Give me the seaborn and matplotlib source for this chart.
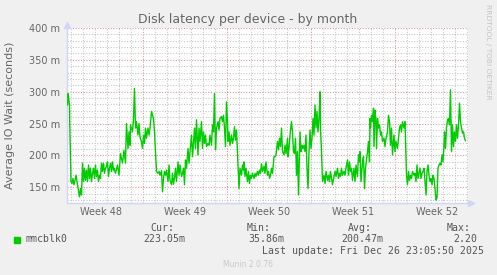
import matplotlib
matplotlib.use("Agg")
import matplotlib.pyplot as plt
import matplotlib.ticker as mticker
from matplotlib.transforms import blended_transform_factory
from matplotlib.patches import Rectangle
import seaborn as sns
import pandas as pd

# ---------------- data ----------------
title = "Disk latency per device - by month"
ylabel = "Average IO Wait (seconds)"
series_name = "mmcblk0"

# hours since the left edge of the 33-day window
hours = [1, 2, 3, 5, 6, 8, 10, 12, 14, 16, 18, 21, 23, 25, 27, 29, 31, 33, 35, 37,
         39, 41, 43, 45, 47, 49, 51, 53, 55, 57, 59, 61, 63, 65, 67, 69, 71, 73, 75, 77,
         79, 81, 83, 85, 87, 89, 91, 93, 94, 97, 101, 104, 107, 111, 114, 117, 119, 122, 124, 126,
         127, 131, 133, 135, 137, 139, 142, 144, 146, 149, 151, 153, 155, 157, 159, 162, 164, 166, 169, 171,
         173, 175, 177, 179, 182, 184, 186, 189, 191, 193, 195, 197, 199, 202, 204, 206, 209, 211, 213, 215,
         217, 219, 222, 224, 226, 229, 231, 233, 235, 237, 239, 242, 244, 246, 249, 251, 253, 255, 257, 259,
         262, 264, 266, 269, 271, 273, 275, 277, 279, 282, 284, 286, 289, 291, 293, 295, 296, 297, 299, 302,
         304, 306, 309, 311, 313, 315, 317, 319, 321, 322, 324, 326, 329, 331, 333, 335, 337, 339, 342, 344,
         346, 349, 351, 353, 354, 356, 358, 361, 363, 365, 367, 369, 371, 374, 376, 378, 381, 383, 385, 387,
         389, 391, 394, 396, 398, 401, 403, 405, 407, 409, 411, 414, 416, 418, 421, 423, 425, 427, 429, 431,
         434, 436, 438, 441, 442, 444, 446, 449, 451, 453, 455, 457, 459, 461, 463, 465, 466, 468, 470, 472,
         474, 476, 478, 480, 482, 484, 486, 488, 490, 492, 494, 496, 498, 500, 502, 504, 506, 507, 509, 511,
         514, 516, 518, 521, 523, 525, 527, 529, 531, 534, 536, 538, 541, 543, 545, 547, 549, 551, 554, 556,
         558, 561, 563, 565, 567, 569, 571, 574, 576, 578, 581, 583, 585, 586, 588, 591, 593, 595, 597, 601,
         603, 605, 606, 607, 609, 611, 613, 614, 616, 618, 619, 621, 623, 625, 627, 629, 631, 634, 636, 638,
         641, 643, 645, 647, 649, 651, 654, 656, 658, 661, 663, 665, 667, 669, 671, 674, 676, 678, 679, 681,
         683, 685, 687, 689, 691, 694, 696, 698, 700, 702, 704, 706, 708, 710, 712, 714, 716, 718, 720, 722,
         724, 726, 728, 730, 732, 734, 736, 738, 740, 742, 744, 746, 748, 750, 752, 754, 755, 757, 759, 761,
         763, 765, 767, 769, 771, 773, 775, 777, 779, 781, 783, 785, 787, 789, 791, 793, 795, 797]

# average IO wait, in milli-seconds ("m")
latency_m = [279, 297, 292, 279, 232, 159, 156, 164, 154, 161, 169, 154, 143, 135, 148, 138, 188, 159, 180, 161,
             177, 159, 185, 164, 180, 159, 172, 180, 164, 185, 167, 177, 159, 169, 164, 188, 175, 188, 172, 180,
             183, 190, 167, 180, 188, 175, 190, 177, 180, 172, 185, 169, 203, 188, 208, 188, 250, 211, 237, 216,
             248, 237, 258, 305, 243, 253, 232, 250, 229, 221, 211, 232, 219, 243, 227, 243, 232, 243, 269, 263,
             258, 237, 206, 175, 172, 175, 169, 176, 143, 164, 175, 169, 177, 159, 185, 161, 154, 172, 155, 164,
             180, 159, 190, 169, 185, 167, 172, 180, 154, 193, 180, 211, 188, 206, 232, 198, 219, 243, 211, 256,
             201, 243, 222, 253, 211, 237, 219, 232, 214, 219, 216, 232, 216, 248, 237, 297, 248, 209, 243, 253,
             240, 258, 261, 253, 263, 243, 214, 284, 253, 222, 237, 216, 232, 219, 227, 245, 224, 240, 185, 148,
             180, 169, 185, 177, 190, 167, 180, 159, 175, 156, 169, 164, 172, 164, 172, 167, 175, 169, 177, 172,
             187, 175, 183, 172, 190, 169, 175, 164, 169, 180, 172, 198, 198, 201, 222, 209, 227, 214, 243, 206,
             201, 216, 203, 227, 198, 211, 232, 253, 237, 206, 203, 227, 169, 206, 138, 209, 237, 206, 216, 211,
             216, 206, 232, 180, 148, 206, 240, 211, 227, 258, 232, 279, 243, 269, 237, 258, 300, 243, 206, 159,
             169, 156, 175, 161, 169, 159, 175, 164, 154, 167, 175, 167, 180, 164, 172, 167, 180, 169, 175, 169,
             180, 193, 169, 190, 175, 180, 161, 180, 159, 185, 167, 201, 190, 206, 159, 190, 198, 148, 180, 206,
             222, 190, 258, 243, 263, 253, 274, 214, 271, 253, 211, 258, 243, 248, 232, 237, 222, 227, 214, 227,
             237, 263, 253, 216, 243, 201, 232, 206, 222, 211, 227, 243, 248, 237, 253, 243, 253, 196, 169, 154,
             175, 161, 169, 164, 175, 169, 172, 159, 185, 164, 172, 180, 164, 172, 175, 180, 159, 138, 175, 185,
             169, 159, 164, 154, 169, 164, 148, 130, 133, 180, 185, 188, 185, 201, 190, 216, 237, 211, 243, 256,
             258, 248, 303, 206, 248, 214, 237, 222, 248, 227, 248, 282, 253, 243, 235, 237, 227, 223]

week_labels = ["Week 48", "Week 49", "Week 50", "Week 51", "Week 52"]
week_boundary_hours = [151.4, 319.4, 487.4, 655.4]
week_label_hours = [67.4, 235.4, 403.4, 571.4, 739.4]

stat_names = ["Cur:", "Min:", "Avg:", "Max:"]
stat_values = ["223.05m", "35.86m", "200.47m", "2.20"]
last_update = "Last update: Fri Dec 26 23:05:50 2025"
footer = "Munin 2.0.76"
watermark = "RRDTOOL / TOBI OETIKER"

# ---------------- styling ----------------
W, H = 497, 275
TXT = "#666666"
LEG = "#555555"
GREEN = "#00cc00"
AXIS = "#cfd6f8"
MGRID = "#e09090"
GRID = "#c4c4c4"

sns.set_style("white")
plt.rcParams["font.family"] = ["DejaVu Sans"]

df = pd.DataFrame({"hours": hours, "latency": latency_m})

fig = plt.figure(figsize=(W / 100, H / 100), dpi=100, facecolor="#f0f0f0")
ax = fig.add_axes([67 / W, 72 / H, 401 / W, 175 / H])
ax.set_facecolor("white")

sns.lineplot(data=df, x="hours", y="latency", ax=ax, color=GREEN,
             linewidth=1.0, estimator=None, zorder=3)

ax.set_xlim(0, 802)
ax.set_ylim(125.4, 400)
ax.set_xlabel("")
ax.set_ylabel("")

# x grid: weekly (major) and daily (minor)
ax.xaxis.set_major_locator(mticker.FixedLocator(week_boundary_hours))
ax.xaxis.set_minor_locator(mticker.MultipleLocator(24, offset=7.4))
ax.xaxis.set_major_formatter(mticker.NullFormatter())
# y grid
ax.yaxis.set_major_locator(mticker.MultipleLocator(50))
ax.yaxis.set_minor_locator(mticker.MultipleLocator(10))
ax.yaxis.set_major_formatter(mticker.FuncFormatter(lambda v, p: f"{v:.0f} m"))

dots = (0, (1, 1.6))
ax.grid(which="major", color=MGRID, linestyle=dots, linewidth=0.75)
ax.grid(which="minor", color=GRID, linestyle=dots, linewidth=0.75)
ax.set_axisbelow(True)

ax.tick_params(axis="y", which="major", length=2.5, width=0.7, color=MGRID,
               labelsize=7, labelcolor=TXT, pad=2.5)
ax.tick_params(axis="y", which="minor", length=2.5, width=0.7, color=GRID)
ax.tick_params(axis="x", which="major", length=3, width=0.7, color=MGRID, direction="inout")
ax.tick_params(axis="x", which="minor", length=3, width=0.7, color=GRID, direction="inout")

for s in ("top", "right"):
    ax.spines[s].set_visible(False)
for s in ("left", "bottom"):
    ax.spines[s].set_color(AXIS)
    ax.spines[s].set_linewidth(1.0)

# axis arrows
ax.plot([0], [1.02], marker="^", markersize=4, color=AXIS, transform=ax.transAxes,
        clip_on=False, zorder=5)
ax.plot([1.007], [0], marker=">", markersize=4, color=AXIS, transform=ax.transAxes,
        clip_on=False, zorder=5)

# week labels
trans = blended_transform_factory(ax.transData, ax.transAxes)
for h, lab in zip(week_label_hours, week_labels):
    ax.text(h, -0.053, lab, transform=trans, ha="center", va="center",
            fontsize=7, color=TXT)

# title and labels
fig.text(248 / W, 1 - 19 / H, title, ha="center", va="center", fontsize=9, color=TXT)
fig.text(10 / W, 1 - 115 / H, ylabel, rotation=90, ha="center", va="center",
         fontsize=8, color=TXT)
fig.text(488 / W, 1 - 52 / H, watermark, rotation=270, ha="center", va="center",
         fontsize=5.4, color="#c4c4c4")

# legend
fig.patches.append(Rectangle((14 / W, 1 - 242.5 / H), 6 / W, 6 / H,
                             transform=fig.transFigure, color=GREEN, figure=fig))
mono = dict(family="DejaVu Sans Mono", fontsize=7.1, color=LEG, va="center", ha="left")
fig.text(26 / W, 1 - 239.3 / H, series_name, **mono)
head_x = [150, 247, 348.3, 446.7]
val_x = [143.3, 248, 341.7, 453.3]
for hx, vx, n, v in zip(head_x, val_x, stat_names, stat_values):
    fig.text(hx / W, 1 - 227.7 / H, n, **mono)
    fig.text(vx / W, 1 - 239.3 / H, v, **mono)
fig.text(261.7 / W, 1 - 251 / H, last_update, **mono)
fig.text(248 / W, 1 - 264.3 / H, footer, ha="center", va="center", fontsize=5.5,
         color="#c8c8c8")

fig.savefig("out.png", dpi=100, facecolor=fig.get_facecolor())
